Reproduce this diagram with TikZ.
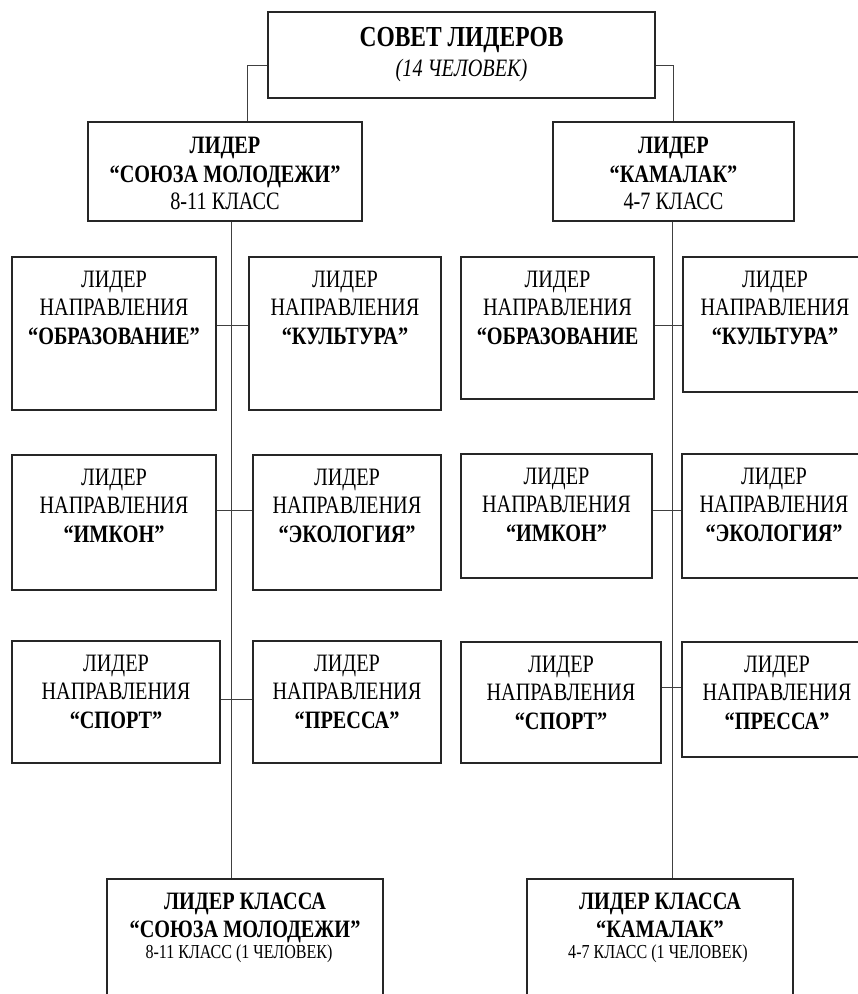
\documentclass[tikz,border=0pt]{standalone}
\usepackage{fontspec}
\setmainfont{Liberation Serif}[FakeStretch=0.81]
\newcommand\mybox[5]{\node[boxst, minimum width={(#4-#2)*1pt}, minimum height={(#5-#3)*1pt}] (#1) at ({(#2+#4)/2},{(#3+#5)/2}) {};}
\newcommand\mytl[5]{\node[#3] (#1) at ([yshift=-#4pt]#2.north) {#5};}
\newcommand\dirtext[2]{%
  \mytl{#1t1}{#1}{reg}{31}{ЛИДЕР}
  \mytl{#1t2}{#1}{reg}{59.5}{НАПРАВЛЕНИЯ}
  \mytl{#1t3}{#1}{bld}{88}{#2}}
\begin{document}
\begin{tikzpicture}[x=1pt,y=-1pt,
  boxst/.style={draw=black!85, line width=1.1pt, rectangle, inner sep=0pt},
  lnk/.style={draw=black!75, line width=1pt},
  reg/.style={font=\fontsize{25}{28}\selectfont, inner sep=0pt, anchor=base},
  bld/.style={font=\fontsize{25}{28}\selectfont\bfseries, inner sep=0pt, anchor=base},
  tbld/.style={font=\fontsize{29}{32}\selectfont\bfseries, inner sep=0pt, anchor=base},
  tit/.style={font=\fontsize{25}{28}\selectfont\itshape, inner sep=0pt, anchor=base},
  sml/.style={font=\fontsize{19.8}{22}\selectfont, inner sep=0pt, anchor=base}]
\fill[white] (0,0) rectangle (858,994);
\useasboundingbox (0,0) rectangle (858,994);
% boxes
\mybox{top}{268}{12}{655}{98}
\mybox{lL}{88}{122}{362}{221}
\mybox{lR}{553}{122}{794}{221}
\mybox{a1}{12}{257}{216}{410}
\mybox{a2}{249}{257}{441}{410}
\mybox{a3}{12}{455}{216}{590}
\mybox{a4}{253}{455}{441}{590}
\mybox{a5}{12}{641}{220}{763}
\mybox{a6}{253}{641}{441}{763}
\mybox{b1}{461}{257}{654}{399}
\mybox{b2}{683}{257}{867}{392}
\mybox{b3}{461}{454}{652}{578}
\mybox{b4}{682}{454}{866}{578}
\mybox{b5}{461}{642}{661}{763}
\mybox{b6}{682}{642}{872}{757}
\mybox{cL}{107}{879}{383}{1010}
\mybox{cR}{527}{879}{793}{1010}
% texts
\mytl{topt1}{top}{tbld}{35.5}{СОВЕТ ЛИДЕРОВ}
\mytl{topt2}{top}{tit}{65.5}{(14 ЧЕЛОВЕК)}
\mytl{lLt1}{lL}{bld}{32}{ЛИДЕР}
\mytl{lLt2}{lL}{bld}{61}{“СОЮЗА МОЛОДЕЖИ”}
\mytl{lLt3}{lL}{reg}{88}{8-11 КЛАСС}
\mytl{lRt1}{lR}{bld}{32}{ЛИДЕР}
\mytl{lRt2}{lR}{bld}{61}{“КАМАЛАК”}
\mytl{lRt3}{lR}{reg}{88}{4-7 КЛАСС}
\dirtext{a1}{“ОБРАЗОВАНИЕ”}
\dirtext{a2}{“КУЛЬТУРА”}
\dirtext{a3}{“ИМКОН”}
\dirtext{a4}{“ЭКОЛОГИЯ”}
\dirtext{a5}{“СПОРТ”}
\dirtext{a6}{“ПРЕССА”}
\dirtext{b1}{“ОБРАЗОВАНИЕ}
\dirtext{b2}{“КУЛЬТУРА”}
\dirtext{b3}{“ИМКОН”}
\dirtext{b4}{“ЭКОЛОГИЯ”}
\dirtext{b5}{“СПОРТ”}
\dirtext{b6}{“ПРЕССА”}
\mytl{cLt1}{cL}{bld}{31}{ЛИДЕР КЛАССА}
\mytl{cLt2}{cL}{bld}{59}{“СОЮЗА МОЛОДЕЖИ”}
\node[sml] (cLt3) at ([xshift=-6pt,yshift=-80pt]cL.north) {8-11 КЛАСС (1 ЧЕЛОВЕК)};
\mytl{cRt1}{cR}{bld}{31}{ЛИДЕР КЛАССА}
\mytl{cRt2}{cR}{bld}{59}{“КАМАЛАК”}
\node[sml] (cRt3) at ([xshift=-2pt,yshift=-80pt]cR.north) {4-7 КЛАСС (1 ЧЕЛОВЕК)};
% connector levels
\coordinate (ht) at (0,65);
\coordinate (r1) at (0,325);
\coordinate (r2) at (0,510);
\coordinate (r3) at (0,699);
\coordinate (r3b) at (0,687);
% connectors
\draw[lnk] (top.west |- ht) -| ([xshift=22pt]lL.north);
\draw[lnk] (top.east |- ht) -| ([xshift=-0.5pt]lR.north);
\draw[lnk] ([xshift=6pt]lL.south) -- ([xshift=-14pt]cL.north);
\draw[lnk] ([xshift=-1.5pt]lR.south) -- ([xshift=12pt]cR.north);
\draw[lnk] (a1.east |- r1) -- (a2.west |- r1);
\draw[lnk] (a3.east |- r2) -- (a4.west |- r2);
\draw[lnk] (a5.east |- r3) -- (a6.west |- r3);
\draw[lnk] (b1.east |- r1) -- (b2.west |- r1);
\draw[lnk] (b3.east |- r2) -- (b4.west |- r2);
\draw[lnk] (b5.east |- r3b) -- (b6.west |- r3b);
\end{tikzpicture}
\end{document}
